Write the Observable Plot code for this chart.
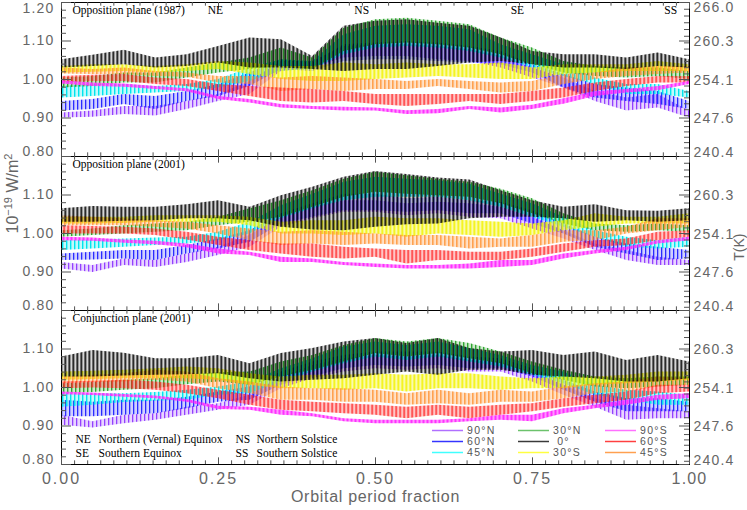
<!DOCTYPE html>
<html>
<head>
<meta charset="utf-8">
<script src="https://cdn.jsdelivr.net/npm/d3@7"></script>
<script src="https://cdn.jsdelivr.net/npm/@observablehq/plot@0.6"></script>
<style>
  html, body { margin: 0; padding: 0; background: #fff; }
  #chart svg { display: block; }
</style>
</head>
<body>
<div id="chart"></div>
<script>
// ---------- data (W/m^2 x 1e-19; each band = oscillation envelope lo/hi) ----------
const fraction = [0,0.05,0.1,0.15,0.2,0.25,0.3,0.35,0.4,0.45,0.5,0.55,0.6,0.65,0.7,0.75,0.8,0.85,0.9,0.95,1];
const panels = ["Opposition plane (1987)", "Opposition plane (2001)", "Conjunction plane (2001)"];
const seriesKeys = ["n90","n60","n45","n30","eq","s30","s90","s60","s45"];
const seriesLabels = ["90°N","60°N","45°N","30°N"," 0°","30°S","90°S","60°S","45°S"];

// Opposition plane (1987)
const opp87_n90_hi = [0.913,0.918,0.930,0.930,0.943,0.961,0.995,1.047,1.047,1.086,1.090,1.090,1.086,1.077,1.060,1.030,1.004,0.969,0.952,0.961,0.918];
const opp87_n90_lo = [0.900,0.902,0.909,0.905,0.922,0.943,0.961,1.021,1.030,1.056,1.060,1.060,1.051,1.047,1.030,1.004,0.978,0.943,0.918,0.926,0.900];
const opp87_n60_hi = [0.943,0.948,0.961,0.956,0.969,0.987,1.017,1.051,1.043,1.090,1.095,1.099,1.095,1.086,1.073,1.038,1.013,0.987,0.978,0.969,0.943];
const opp87_n60_lo = [0.918,0.922,0.935,0.922,0.943,0.956,0.982,1.026,1.021,1.047,1.051,1.051,1.047,1.043,1.038,1.017,0.978,0.952,0.943,0.935,0.922];
const opp87_n45_hi = [0.982,0.987,0.987,0.982,0.987,1.000,1.030,1.051,1.047,1.116,1.138,1.142,1.138,1.129,1.090,1.064,1.038,1.004,0.987,0.987,0.969];
const opp87_n45_lo = [0.952,0.956,0.961,0.965,0.969,0.978,0.995,1.021,1.026,1.064,1.082,1.086,1.082,1.073,1.056,1.030,1.008,0.987,0.961,0.961,0.952];
const opp87_n30_hi = [1.004,1.008,1.017,1.017,1.030,1.043,1.056,1.082,1.056,1.133,1.155,1.159,1.151,1.142,1.108,1.082,1.047,1.034,1.030,1.030,1.021];
const opp87_n30_lo = [0.978,0.982,0.991,0.991,1.004,1.017,1.026,1.034,1.026,1.073,1.090,1.095,1.090,1.082,1.064,1.038,1.017,1.008,1.004,1.008,1.000];
const opp87_eq_hi  = [1.051,1.063,1.076,1.056,1.064,1.086,1.108,1.103,1.060,1.138,1.151,1.155,1.146,1.138,1.108,1.073,1.064,1.064,1.056,1.069,1.051];
const opp87_eq_lo  = [1.030,1.034,1.038,1.030,1.034,1.043,1.030,1.030,1.026,1.021,1.026,1.026,1.034,1.043,1.047,1.038,1.030,1.030,1.026,1.034,1.030];
const opp87_s30_hi = [1.034,1.038,1.038,1.034,1.038,1.047,1.043,1.034,1.034,1.043,1.038,1.043,1.038,1.038,1.043,1.030,1.038,1.038,1.038,1.047,1.038];
const opp87_s30_lo = [1.017,1.019,1.021,1.017,1.021,1.026,1.013,1.000,0.995,0.995,1.000,1.004,1.008,1.004,1.000,1.000,1.013,1.017,1.021,1.021,1.021];
const opp87_s90_hi = [0.997,0.991,0.988,0.982,0.976,0.956,0.948,0.935,0.930,0.928,0.926,0.919,0.922,0.930,0.926,0.933,0.950,0.968,0.974,0.982,0.995];
const opp87_s90_lo = [0.988,0.982,0.980,0.974,0.968,0.948,0.939,0.926,0.922,0.918,0.918,0.909,0.911,0.922,0.913,0.922,0.936,0.956,0.965,0.971,0.987];
const opp87_s60_hi = [1.008,1.011,1.013,1.004,1.000,0.987,0.982,0.978,0.974,0.969,0.961,0.961,0.961,0.961,0.961,0.969,0.978,0.991,1.000,1.008,1.008];
const opp87_s60_lo = [0.991,0.994,0.995,0.987,0.982,0.969,0.956,0.943,0.939,0.943,0.935,0.930,0.935,0.943,0.935,0.943,0.952,0.969,0.982,0.991,0.991];
const opp87_s45_hi = [1.030,1.026,1.030,1.021,1.017,1.008,1.008,1.004,1.008,1.004,1.000,0.995,1.000,0.995,0.991,0.995,1.013,1.017,1.030,1.034,1.034];
const opp87_s45_lo = [1.014,1.013,1.013,1.008,1.006,0.991,0.987,0.969,0.974,0.969,0.974,0.974,0.982,0.974,0.965,0.969,0.987,1.000,1.008,1.013,1.017];

// Opposition plane (2001)
const opp01_n90_hi = [0.925,0.917,0.934,0.930,0.947,0.964,0.995,1.042,1.068,1.085,1.085,1.077,1.081,1.077,1.068,1.042,1.007,0.973,0.956,0.938,0.930];
const opp01_n90_lo = [0.908,0.899,0.917,0.912,0.925,0.943,0.964,1.016,1.038,1.055,1.055,1.046,1.051,1.042,1.038,1.012,0.986,0.956,0.930,0.917,0.917];
const opp01_n60_hi = [0.947,0.951,0.956,0.956,0.969,0.986,1.007,1.051,1.077,1.102,1.102,1.090,1.094,1.085,1.081,1.059,1.025,0.990,0.973,0.964,0.956];
const opp01_n60_lo = [0.930,0.931,0.934,0.930,0.947,0.960,0.977,1.025,1.042,1.059,1.059,1.055,1.059,1.051,1.051,1.025,0.999,0.964,0.947,0.930,0.934];
const opp01_n45_hi = [0.981,0.983,0.986,0.988,0.990,1.003,1.029,1.072,1.102,1.133,1.146,1.141,1.137,1.128,1.102,1.077,1.042,1.007,0.990,0.981,0.990];
const opp01_n45_lo = [0.956,0.960,0.964,0.969,0.973,0.981,0.999,1.038,1.064,1.085,1.094,1.094,1.094,1.085,1.068,1.042,1.016,0.990,0.964,0.960,0.964];
const opp01_n30_hi = [1.007,1.012,1.020,1.025,1.029,1.042,1.064,1.085,1.111,1.141,1.159,1.150,1.141,1.133,1.115,1.090,1.051,1.025,1.020,1.025,1.020];
const opp01_n30_lo = [0.990,0.995,0.999,1.003,1.007,1.020,1.029,1.042,1.068,1.094,1.107,1.102,1.098,1.094,1.077,1.051,1.025,1.007,1.003,1.007,1.003];
const opp01_eq_hi  = [1.064,1.070,1.068,1.068,1.075,1.085,1.068,1.098,1.120,1.146,1.161,1.153,1.144,1.139,1.111,1.085,1.068,1.075,1.059,1.058,1.064];
const opp01_eq_lo  = [1.029,1.029,1.032,1.033,1.038,1.038,1.033,1.016,1.009,1.007,1.016,1.023,1.025,1.038,1.042,1.042,1.038,1.029,1.033,1.029,1.033];
const opp01_s30_hi = [1.042,1.042,1.042,1.046,1.046,1.046,1.042,1.029,1.033,1.033,1.042,1.038,1.038,1.033,1.029,1.025,1.033,1.051,1.042,1.042,1.051];
const opp01_s30_lo = [1.025,1.025,1.026,1.029,1.029,1.029,1.020,0.999,0.999,0.995,0.999,0.990,0.999,0.995,0.990,0.995,1.007,1.016,1.025,1.025,1.025];
const opp01_s90_hi = [0.990,0.988,0.983,0.980,0.973,0.960,0.951,0.938,0.934,0.925,0.921,0.917,0.917,0.921,0.930,0.930,0.947,0.956,0.964,0.981,0.990];
const opp01_s90_lo = [0.981,0.980,0.975,0.971,0.963,0.947,0.943,0.925,0.925,0.917,0.912,0.908,0.908,0.908,0.912,0.917,0.934,0.947,0.956,0.973,0.981];
const opp01_s60_hi = [1.020,1.018,1.016,1.012,1.003,0.990,0.981,0.973,0.973,0.964,0.960,0.956,0.956,0.951,0.951,0.960,0.973,0.981,0.986,1.003,1.007];
const opp01_s60_lo = [0.999,0.999,0.999,0.995,0.983,0.969,0.956,0.947,0.938,0.934,0.938,0.921,0.930,0.930,0.930,0.938,0.951,0.964,0.969,0.981,0.990];
const opp01_s45_hi = [1.046,1.042,1.038,1.033,1.029,1.020,1.012,1.003,1.007,1.003,0.999,0.995,0.995,0.990,0.986,0.995,1.007,1.007,1.016,1.038,1.038];
const opp01_s45_lo = [1.020,1.020,1.020,1.016,1.012,0.999,0.981,0.969,0.973,0.969,0.973,0.969,0.969,0.960,0.964,0.964,0.977,0.981,0.999,1.007,1.016];

// Conjunction plane (2001)
const con01_n90_hi = [0.928,0.911,0.928,0.932,0.949,0.958,0.980,1.027,1.057,1.075,1.083,1.079,1.083,1.070,1.066,1.040,1.006,0.971,0.954,0.945,0.937];
const con01_n90_lo = [0.902,0.895,0.906,0.915,0.928,0.941,0.954,0.997,1.023,1.040,1.049,1.045,1.049,1.040,1.040,1.014,0.980,0.949,0.915,0.919,0.919];
const con01_n60_hi = [0.967,0.962,0.967,0.967,0.975,0.988,1.001,1.040,1.066,1.083,1.092,1.092,1.092,1.079,1.075,1.049,1.019,0.988,0.971,0.971,0.962];
const con01_n60_lo = [0.924,0.924,0.928,0.932,0.945,0.962,0.967,1.006,1.027,1.049,1.057,1.053,1.057,1.049,1.049,1.027,0.993,0.962,0.937,0.937,0.937];
const con01_n45_hi = [0.984,0.984,0.984,0.987,0.993,1.001,1.014,1.049,1.075,1.105,1.118,1.109,1.118,1.101,1.083,1.057,1.040,1.006,0.993,0.988,0.980];
const con01_n45_lo = [0.949,0.954,0.961,0.964,0.967,0.980,0.984,1.014,1.040,1.062,1.079,1.070,1.079,1.066,1.053,1.032,1.010,0.980,0.967,0.954,0.954];
const con01_n30_hi = [1.010,1.013,1.019,1.023,1.032,1.038,1.040,1.066,1.083,1.109,1.127,1.118,1.127,1.114,1.092,1.066,1.045,1.027,1.023,1.027,1.027];
const con01_n30_lo = [0.984,0.987,0.993,0.997,1.007,1.014,1.006,1.027,1.045,1.066,1.088,1.079,1.088,1.075,1.062,1.036,1.019,1.001,0.997,1.001,1.006];
const con01_eq_hi  = [1.079,1.096,1.089,1.075,1.075,1.083,1.062,1.088,1.101,1.118,1.127,1.114,1.127,1.101,1.092,1.096,1.083,1.092,1.070,1.083,1.066];
const con01_eq_lo  = [1.027,1.027,1.030,1.032,1.033,1.036,1.023,1.014,1.019,1.023,1.032,1.040,1.032,1.045,1.045,1.032,1.027,1.023,1.014,1.014,1.023];
const con01_s30_hi = [1.040,1.042,1.045,1.049,1.053,1.049,1.036,1.027,1.032,1.032,1.036,1.032,1.036,1.036,1.027,1.023,1.027,1.027,1.032,1.040,1.040];
const con01_s30_lo = [1.019,1.021,1.023,1.023,1.023,1.019,1.006,0.997,0.997,0.993,0.997,0.988,0.997,0.997,0.993,0.997,0.997,1.006,1.010,1.014,1.019];
const con01_s90_hi = [0.988,0.986,0.982,0.978,0.969,0.951,0.949,0.941,0.932,0.919,0.915,0.915,0.915,0.919,0.928,0.928,0.945,0.954,0.967,0.980,0.984];
const con01_s90_lo = [0.981,0.979,0.975,0.971,0.962,0.943,0.941,0.928,0.924,0.911,0.906,0.906,0.906,0.911,0.915,0.911,0.932,0.945,0.954,0.967,0.971];
const con01_s60_hi = [1.014,1.016,1.019,1.014,1.006,0.993,0.980,0.967,0.962,0.958,0.954,0.949,0.954,0.949,0.954,0.958,0.971,0.980,0.988,1.006,1.006];
const con01_s60_lo = [0.997,0.999,0.997,0.993,0.984,0.971,0.954,0.941,0.937,0.932,0.928,0.919,0.928,0.919,0.928,0.937,0.949,0.958,0.967,0.984,0.988];
const con01_s45_hi = [1.027,1.032,1.036,1.045,1.040,1.023,1.014,1.001,0.997,0.997,0.993,0.984,0.993,0.984,0.993,0.988,1.001,1.010,1.014,1.027,1.023];
const con01_s45_lo = [1.010,1.013,1.014,1.019,1.014,0.997,0.984,0.967,0.967,0.962,0.962,0.954,0.958,0.954,0.962,0.962,0.971,0.984,0.988,1.001,1.006];

// axis tick labels
const yMajor = [0.8, 0.9, 1.0, 1.1, 1.2];
const yTickText = ["0.80","0.90","1.00","1.10","1.20"];
const tTickValues = [240.4, 247.6, 254.1, 260.3, 266.0];
const tTickText = ["240.4","247.6","254.1","260.3","266.0"];
const xMajor = [0, 0.25, 0.5, 0.75, 1];
const xTickText = ["0.00","0.25","0.50","0.75","1.00"];
const seasonCodes = ["NE","NS","SE","SS"];
const seasonAt = [0.245, 0.478, 0.726, 0.970];

// ---------- styles ----------
const seriesColors = ["#9440ff","#2a2aff","#00e5ee","#2fa52f","#000000","#f2f200","#ff30ff","#ff1a1a","#ff8c26"];
const legendColors = ["#b070ff","#3434ff","#40ffff","#6cc26c","#3a3a3a","#ffff40","#ff70ff","#ff4040","#ffa050"];
const patOffset = [0, 1, 2, 3, 0.5, 1.5, 2.5, 3.5, 0.25];
const patBg = [0.22, 0.22, 0.24, 0.24, 0.16, 0.32, 0.5, 0.25, 0.25];
const patStripe = [1.3, 1.3, 1.4, 1.4, 1.6, 1.6, 2, 1.3, 1.3];
const drawOrder = ["n90","n60","n45","n30","s30","s45","s60","s90","eq"];

const W = 747, H = 510, ML = 61, MR = 58, MT = 1, MB = 46;
const frameW = W - ML - MR;
const panelH = (H - MT - MB) / 3;
const sans = "Liberation Sans, Arial, sans-serif";
const serif = "Liberation Serif, Times New Roman, serif";
const grey = "#666";

// ---------- table ----------
const panelSeries = [
  {n90:[opp87_n90_lo,opp87_n90_hi], n60:[opp87_n60_lo,opp87_n60_hi], n45:[opp87_n45_lo,opp87_n45_hi], n30:[opp87_n30_lo,opp87_n30_hi], eq:[opp87_eq_lo,opp87_eq_hi], s30:[opp87_s30_lo,opp87_s30_hi], s90:[opp87_s90_lo,opp87_s90_hi], s60:[opp87_s60_lo,opp87_s60_hi], s45:[opp87_s45_lo,opp87_s45_hi]},
  {n90:[opp01_n90_lo,opp01_n90_hi], n60:[opp01_n60_lo,opp01_n60_hi], n45:[opp01_n45_lo,opp01_n45_hi], n30:[opp01_n30_lo,opp01_n30_hi], eq:[opp01_eq_lo,opp01_eq_hi], s30:[opp01_s30_lo,opp01_s30_hi], s90:[opp01_s90_lo,opp01_s90_hi], s60:[opp01_s60_lo,opp01_s60_hi], s45:[opp01_s45_lo,opp01_s45_hi]},
  {n90:[con01_n90_lo,con01_n90_hi], n60:[con01_n60_lo,con01_n60_hi], n45:[con01_n45_lo,con01_n45_hi], n30:[con01_n30_lo,con01_n30_hi], eq:[con01_eq_lo,con01_eq_hi], s30:[con01_s30_lo,con01_s30_hi], s90:[con01_s90_lo,con01_s90_hi], s60:[con01_s60_lo,con01_s60_hi], s45:[con01_s45_lo,con01_s45_hi]}
];
const rows = [];
panelSeries.forEach((ps, p) => seriesKeys.forEach(k => {
  const [lo, hi] = ps[k];
  fraction.forEach((f, i) => rows.push({panel: panels[p], key: k, f, lo: lo[i], hi: hi[i]}));
}));

const near = (a, b) => Math.abs(a - b) < 1e-6;
const yMinor = d3.range(0.8, 1.2001, 0.02).filter(v => !yMajor.some(m => near(m, v)));
const tToY = d3.scaleLinear().domain(tTickValues).range(yMajor);
const tMinor = d3.range(241, 266).map(t => tToY(t));
const xMinor = d3.range(0, 49).map(i => i / 48).filter(v => !xMajor.some(m => near(m, v)));

const leftRows = [];
panels.forEach((p, pi) => yMajor.forEach((v, i) => {
  if (i === 4 && pi > 0) return;
  leftRows.push({panel: p, v, text: yTickText[i], t: tTickText[i], edge: i === 0 ? "bottom" : i === 4 ? "top" : "mid"});
}));

const yLab = (edge, dy) => Plot.text(leftRows.filter(d => d.edge === edge), {fy: "panel", y: "v", text: "text", frameAnchor: "left", textAnchor: "end", dx: -7, dy, fontSize: 14, fill: grey, fontFamily: sans});
const tLab = (edge, dy) => Plot.text(leftRows.filter(d => d.edge === edge), {fy: "panel", y: "v", text: "t", frameAnchor: "right", textAnchor: "start", dx: 4, dy, fontSize: 14, fill: grey, fontFamily: sans});
const tickStroke = "#555";
const noteStyle = {fy: "panel", text: "text", frameAnchor: "bottom-left", textAnchor: "start", lineAnchor: "middle", dy: -19, lineHeight: 1.25, fontSize: 11.5, fill: "#000", fontFamily: serif};

const svg = Plot.plot({
  width: W, height: H,
  marginLeft: ML, marginRight: MR, marginTop: MT, marginBottom: MB,
  style: {fontFamily: sans, background: "#fff"},
  x: {domain: [0, 1], axis: null},
  y: {domain: [0.8, 1.2], axis: null},
  fy: {domain: panels, axis: null, padding: 0},
  marks: [
    ...drawOrder.map(k => Plot.areaY(rows.filter(r => r.key === k), {x: "f", y1: "lo", y2: "hi", fy: "panel", fill: `url(#pat-${k})`, curve: "linear"})),
    Plot.frame({stroke: "#000"}),
    Plot.tickY(yMajor, {y: d => d, stroke: tickStroke, insetRight: frameW - 10}),
    Plot.tickY(yMinor, {y: d => d, stroke: tickStroke, insetRight: frameW - 5}),
    Plot.tickY(yMajor, {y: d => d, stroke: tickStroke, insetLeft: frameW - 10}),
    Plot.tickY(tMinor, {y: d => d, stroke: tickStroke, insetLeft: frameW - 5}),
    Plot.tickX(xMajor, {x: d => d, stroke: tickStroke, insetBottom: panelH - 7}),
    Plot.tickX(xMajor, {x: d => d, stroke: tickStroke, insetTop: panelH - 7}),
    Plot.tickX(xMinor, {x: d => d, stroke: tickStroke, insetBottom: panelH - 4}),
    Plot.tickX(xMinor, {x: d => d, stroke: tickStroke, insetTop: panelH - 4}),
    yLab("mid", 0), yLab("top", 6), yLab("bottom", -5),
    tLab("mid", 1), tLab("top", 5), tLab("bottom", -4),
    Plot.text(xMajor.map((f, i) => ({panel: panels[2], f, text: xTickText[i]})), {fy: "panel", x: "f", text: "text", frameAnchor: "bottom", dy: 19, fontSize: 16, fill: grey, fontFamily: sans}),
    Plot.text([{panel: panels[2], text: "Orbital period fraction"}], {fy: "panel", text: "text", frameAnchor: "bottom", dy: 37, fontSize: 16, fill: grey, fontFamily: sans}),
    Plot.text([{panel: panels[1], text: "10-19 W/m2"}], {fy: "panel", text: "text", frameAnchor: "left", dx: -49, rotate: -90, fontSize: 16, fill: grey, fontFamily: sans}),
    Plot.text([{panel: panels[1], text: "T(K)"}], {fy: "panel", text: "text", frameAnchor: "right", dx: 50, rotate: -90, fontSize: 14, fill: grey, fontFamily: sans}),
    Plot.text(panels.map(p => ({panel: p, text: p})), {fy: "panel", text: "text", frameAnchor: "top-left", textAnchor: "start", lineAnchor: "top", dx: 11, dy: 3, fontSize: 11.5, fill: "#000", fontFamily: serif}),
    Plot.text(seasonCodes.map((c, i) => ({panel: panels[0], f: seasonAt[i], text: c})), {fy: "panel", x: "f", text: "text", frameAnchor: "top", lineAnchor: "top", dy: 3, fontSize: 11.5, fill: "#000", fontFamily: serif}),
    Plot.text([{panel: panels[2], text: "NE\nSE"}], {...noteStyle, dx: 14}),
    Plot.text([{panel: panels[2], text: "Northern (Vernal) Equinox\nSouthern Equinox"}], {...noteStyle, dx: 37}),
    Plot.text([{panel: panels[2], text: "NS\nSS"}], {...noteStyle, dx: 174}),
    Plot.text([{panel: panels[2], text: "Northern Solstice\nSouthern Solstice"}], {...noteStyle, dx: 195})
  ]
});

// stripe patterns imitating the dense oscillating traces
const defs = d3.select(svg).insert("defs", ":first-child");
seriesKeys.forEach((k, i) => {
  const pat = defs.append("pattern").attr("id", `pat-${k}`).attr("patternUnits", "userSpaceOnUse")
    .attr("width", 4).attr("height", 6).attr("x", patOffset[i]);
  pat.append("rect").attr("width", 4).attr("height", 6).attr("fill", seriesColors[i]).attr("fill-opacity", patBg[i]);
  pat.append("rect").attr("width", patStripe[i]).attr("height", 6).attr("fill", seriesColors[i]);
});

// text post-styling: letter spacing and the superscripted y title
svg.querySelectorAll("text").forEach(el => {
  const s = el.textContent;
  if (yTickText.includes(s) || tTickText.includes(s)) el.style.letterSpacing = "1.2px";
  else if (xTickText.includes(s)) el.style.letterSpacing = "2px";
  else if (s === "Orbital period fraction") el.style.letterSpacing = "0.7px";
  else if (s === "10-19 W/m2") {
    el.textContent = "";
    const t = d3.select(el);
    t.append("tspan").text("10");
    t.append("tspan").attr("dy", -6).attr("font-size", 11).text("\u221219");
    t.append("tspan").attr("dy", 6).text(" W/m");
    t.append("tspan").attr("dy", -6).attr("font-size", 11).text("2");
  }
});

// legend (inside bottom panel)
const lg = d3.select(svg).append("g").attr("font-family", sans).attr("font-size", 10.5).attr("fill", "#555").attr("text-anchor", "start");
const colLine = [432, 518, 605], colText = [467, 553, 640], rowY = [430.5, 441.5, 452.5];
seriesKeys.forEach((k, i) => {
  const c = Math.floor(i / 3), r = i % 3;
  lg.append("line").attr("x1", colLine[c]).attr("x2", colLine[c] + 31).attr("y1", rowY[r]).attr("y2", rowY[r])
    .attr("stroke", legendColors[i]).attr("stroke-width", 1.5);
  lg.append("text").attr("x", colText[c]).attr("y", rowY[r]).attr("dy", "0.36em")
    .style("white-space", "pre").style("letter-spacing", "1.3px").text(seriesLabels[i]);
});

document.getElementById("chart").appendChild(svg);
</script>
</body>
</html>
